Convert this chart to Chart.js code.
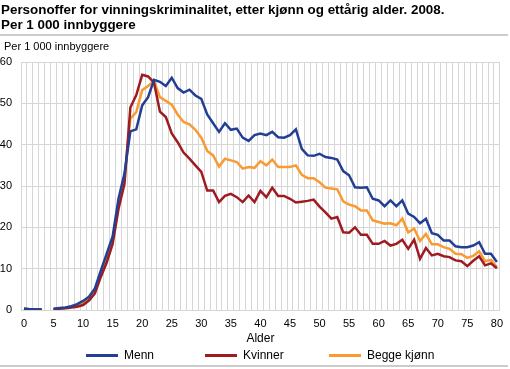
<!DOCTYPE html>
<html>
<head>
<meta charset="utf-8">
<script src="https://cdn.jsdelivr.net/npm/chart.js@4"></script>
<style>
  body { margin: 0; background: #fff; font-family: Arial, "Liberation Sans", sans-serif; }
  #wrap { position: relative; width: 510px; height: 369px; overflow: hidden; }
  #chart { position: absolute; left: 0; top: 0; }
  .title { position: absolute; left: 1px; top: 2px; font-weight: bold; font-size: 13.4px; line-height: 15px; color: #000; }
  .rule { position: absolute; left: 0; width: 508px; height: 2px; background: #cccccc; }
  .unit { position: absolute; left: 4px; top: 40px; font-size: 11px; color: #000; }
  #legend { position: absolute; left: 0; top: 348px; width: 510px; height: 16px; }
  .item { position: absolute; top: 0; font-size: 12px; line-height: 14px; color: #000; white-space: nowrap; }
  .item span.box { position: absolute; top: 6px; width: 32px; height: 3px; }
  .item span.txt { position: absolute; left: 38px; top: 0; }
</style>
</head>
<body>
<div id="wrap">
  <canvas id="chart" width="510" height="369"></canvas>
  <div class="title">Personoffer for vinningskriminalitet, etter kjønn og ettårig alder. 2008.<br>Per 1 000 innbyggere</div>
  <div class="rule" style="top:34px"></div>
  <div class="unit">Per 1 000 innbyggere</div>
  <div id="legend"></div>
  <div class="rule" style="top:365px"></div>
</div>
<script>
// ages 0-80, no value for age 4
const ages = [];
for (let a = 0; a <= 80; a++) ages.push(String(a));

const menn = [
  0.3, 0.2, 0.1, 0.1, null, 0.3, 0.5, 0.6, 0.9, 1.4,
  2.2, 3.2, 5.2, 9.5, 13.6, 17.8, 27, 33, 43.2, 43.7,
  49.5, 51.5, 55.7, 55.2, 54.2, 56.2, 53.7, 52.6, 53.3, 51.9,
  51.1, 47.3, 45.2, 43.1, 45.2, 43.6, 43.9, 41.7, 40.9, 42.3,
  42.7, 42.3, 43.1, 41.8, 41.7, 42.3, 43.7, 39, 37.4, 37.3,
  37.8, 37, 36.8, 36.4, 33.6, 32.6, 29.7, 29.6, 29.7, 26.9,
  26.5, 25.1, 26.5, 25.1, 26.5, 23.3, 22.5, 21, 22.1, 18.6,
  18.2, 16.8, 16.8, 15.4, 15.2, 15.2, 15.6, 16.4, 13.6, 13.6, 11.6
];

const kvinner = [
  0.3, 0.2, 0.1, 0.1, null, 0.2, 0.3, 0.4, 0.6, 0.8,
  1.2, 2.3, 4, 8, 11.5, 16, 24.5, 30.5, 49, 52,
  56.9, 56.5, 55, 48, 46.7, 42.7, 40.6, 38.1, 36.6, 35,
  33.4, 28.9, 28.9, 26.1, 27.6, 28.1, 27.3, 26.1, 27.7, 26.1,
  28.8, 27.3, 29.6, 27.6, 27.6, 26.9, 26, 26.2, 26.4, 26.7,
  25, 23.6, 22.1, 22.5, 18.8, 18.7, 20, 18.2, 18.2, 16,
  16, 16.7, 15.6, 16, 17, 14.8, 17, 12.4, 15, 13.2,
  13.6, 13, 12.8, 12, 11.8, 10.6, 11.9, 13, 10.8, 11.3, 10.1
];

const beggeKjonn = [
  0.3, 0.2, 0.1, 0.1, null, 0.2, 0.4, 0.5, 0.7, 1.1,
  1.7, 2.9, 4.7, 8.8, 12.8, 17, 25.8, 31.8, 46.3, 47.9,
  53.2, 54.2, 55.4, 51.5, 50.6, 49.7, 47.3, 45.5, 44.9, 43.6,
  41.7, 38.5, 37.4, 34.7, 36.6, 36.2, 35.8, 34.2, 34.6, 34.4,
  36, 35, 36.4, 34.6, 34.6, 34.6, 35, 32.7, 31.9, 31.9,
  30.9, 29.6, 29.4, 29.2, 26.3, 25.5, 25.1, 24.1, 24.1, 21.7,
  21.3, 20.9, 21, 20.5, 22.1, 18.8, 19.7, 16.7, 18.4, 15.9,
  15.9, 15.2, 14.8, 13.6, 13.5, 12.6, 13.1, 14.2, 11.8, 12.1, 10.4
];

const yTicks = [0, 10, 20, 30, 40, 50, 60];

const font = 'Arial, "Liberation Sans", sans-serif';
const gridColor = '#d6d6d6';

function line(label, data, color) {
  return {
    label: label,
    data: data,
    borderColor: color,
    backgroundColor: color,
    borderWidth: 2.5,
    pointRadius: 0,
    tension: 0,
    spanGaps: false
  };
}

const chart = new Chart(document.getElementById('chart'), {
  type: 'line',
  data: {
    labels: ages,
    datasets: [
      line('Menn', menn, '#233f94'),
      line('Kvinner', kvinner, '#9c1c21'),
      line('Begge kjønn', beggeKjonn, '#fa9a32')
    ]
  },
  options: {
    responsive: false,
    animation: false,
    layout: { padding: { top: 62, right: 0, left: 0, bottom: 22 } },
    plugins: {
      title: { display: false },
      tooltip: { enabled: false },
      legend: { display: false }
    },
    scales: {
      x: {
        type: 'category',
        offset: true,
        grid: { color: gridColor, offset: true, drawTicks: false },
        border: { color: gridColor },
        ticks: {
          autoSkip: false,
          maxRotation: 0,
          padding: 7,
          color: '#000',
          font: { family: font, size: 11 },
          callback: function (v, i) { return i % 5 === 0 ? ages[i] : ''; }
        },
        title: {
          display: true,
          text: 'Alder',
          color: '#000',
          font: { family: font, size: 12 },
          padding: { top: 0, bottom: 1 }
        },
        afterFit: function (scale) { scale.height = 37; }
      },
      y: {
        min: 0,
        max: 60,
        afterBuildTicks: function (scale) {
          scale.ticks = yTicks.map(v => ({ value: v }));
        },
        grid: { color: gridColor, drawTicks: false },
        border: { color: gridColor },
        ticks: {
          padding: 9,
          color: '#000',
          font: { family: font, size: 11 }
        },
        afterFit: function (scale) { scale.width = 21; }
      }
    }
  }
});

// legend drawn as html, spread like the original
const legendX = [86, 205, 329];
const legendEl = document.getElementById('legend');
chart.data.datasets.forEach((ds, i) => {
  const item = document.createElement('div');
  item.className = 'item';
  item.style.left = legendX[i] + 'px';
  const box = document.createElement('span');
  box.className = 'box';
  box.style.background = ds.borderColor;
  const txt = document.createElement('span');
  txt.className = 'txt';
  txt.textContent = ds.label;
  item.appendChild(box);
  item.appendChild(txt);
  legendEl.appendChild(item);
});
</script>
</body>
</html>
